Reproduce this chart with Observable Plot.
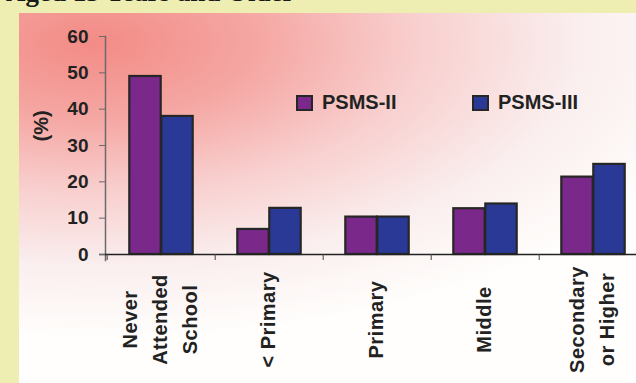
<!DOCTYPE html>
<html>
<head>
<meta charset="utf-8">
<script src="https://cdn.jsdelivr.net/npm/d3@7"></script>
<script src="https://cdn.jsdelivr.net/npm/@observablehq/plot@0.6"></script>
<style>
  html, body { margin: 0; padding: 0; background: #eeeeb2; }
  #page {
    position: relative; width: 636px; height: 383px; overflow: hidden;
    background: #eeeeb2; font-family: "Liberation Sans", Arial, sans-serif;
  }
  #title {
    position: absolute; left: 6px; top: -23px; margin: 0;
    font: bold 27px "Liberation Serif", "Times New Roman", serif; color: #1a1a1a;
    white-space: nowrap;
  }
  #panel {
    position: absolute; left: 19px; top: 13px; right: 0; bottom: 0;
    background: radial-gradient(ellipse 105% 80% at 12% 8%,
      #f38b86 0%, #f5a6a2 25%, #f8cfce 50%, #faeeee 75%, #fffefc 100%);
  }
  #chart { position: absolute; left: 0; top: 0; }
  #chart svg { max-width: none !important; }
  #chart svg .xlab text { letter-spacing: 0.5px; }
  .legend { position: absolute; top: 91px; display: flex; align-items: center;
    font-weight: bold; font-size: 20px; color: #222; }
  .legend span.sw { display: inline-block; width: 13px; height: 12px;
    border: 2px solid #262626; margin-right: 9px; }
</style>
</head>
<body>
<div id="page">
  <div id="title">Aged 15 Years and Older</div>
  <div id="panel"></div>
  <div id="chart"></div>
  <div class="legend" id="leg0" style="left:296px"></div>
  <div class="legend" id="leg1" style="left:472px"></div>
</div>
<script>
// Education level of the population aged 15+, two survey rounds (%)
const categories = ["Never\nAttended\nSchool", "< Primary", "Primary", "Middle", "Secondary\nor Higher"];
const psms2 = [49, 6.9, 10.3, 12.6, 21.3];
const psms3 = [38, 12.7, 10.3, 13.9, 24.8];
const seriesNames = ["PSMS-II", "PSMS-III"];
const seriesColors = ["#7a288a", "#2a3995"];
const yTicks = [0, 10, 20, 30, 40, 50, 60];

const W = 650, H = 383, mL = 105, mR = 2, mT = 36, mB = 129;
const band = (W - mL - mR) / categories.length;
const barW = 32;
const outer = (band - 2 * barW) / 2;

const rows = categories.map((c, i) => ({cat: c, a: psms2[i], b: psms3[i]}));

const chart = Plot.plot({
  width: W, height: H,
  marginLeft: mL, marginRight: mR, marginTop: mT, marginBottom: mB,
  style: {background: "transparent", fontFamily: "'Liberation Sans', Arial, sans-serif",
          fontWeight: "bold", fontSize: "20px", color: "#222", overflow: "visible",
          maxWidth: "none"},
  x: {type: "band", domain: categories, padding: 0, axis: null},
  y: {domain: [0, 60], axis: null},
  marks: [
    Plot.barY(rows, {x: "cat", y: "a", fill: seriesColors[0], stroke: "#262626", strokeWidth: 2.2,
      insetLeft: outer, insetRight: outer + barW}),
    Plot.barY(rows, {x: "cat", y: "b", fill: seriesColors[1], stroke: "#262626", strokeWidth: 2.2,
      insetLeft: outer + barW, insetRight: outer}),
    Plot.frame({anchor: "left", stroke: "#6a6a6a", strokeWidth: 1.5, insetBottom: -6}),
    Plot.ruleY([0], {stroke: "#222", strokeWidth: 1.5, insetLeft: -6}),
    Plot.axisY({ticks: yTicks, tickSize: 6, tickPadding: 11, stroke: "#6a6a6a",
      fill: "#222", fontSize: 19, fontWeight: "bold", label: null}),
    Plot.axisX({tickSize: 6, tickFormat: () => "", dx: -band / 2, stroke: "#444", label: null}),
    Plot.text(rows, {x: "cat", text: "cat", frameAnchor: "bottom", dx: -4, dy: 65, rotate: -90,
      textAnchor: "middle", lineAnchor: "middle", lineHeight: 1.5, className: "xlab",
      fontSize: 20, fontWeight: "bold", fill: "#222"}),
    Plot.text(["(%)"], {frameAnchor: "left", dx: -64, dy: -4, rotate: -90,
      fontSize: 20, fontWeight: "bold", fill: "#222"})
  ]
});
document.getElementById("chart").appendChild(chart);

seriesNames.forEach((name, i) => {
  const el = document.getElementById("leg" + i);
  const sw = document.createElement("span");
  sw.className = "sw";
  sw.style.background = seriesColors[i];
  el.appendChild(sw);
  el.appendChild(document.createTextNode(name));
});
</script>
</body>
</html>
